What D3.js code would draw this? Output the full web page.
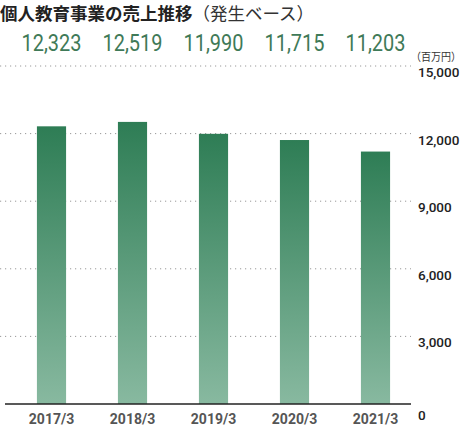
<!DOCTYPE html>
<html>
<head>
<meta charset="utf-8">
<script src="https://cdn.jsdelivr.net/npm/d3@7"></script>
<style>
  body { margin: 0; background: #fff; }
  svg { display: block; font-family: 'Noto Sans CJK JP', Roboto, sans-serif; }
  .grid line { stroke: #999; stroke-dasharray: 1.2 3.8; }
  .tick-label { font-family: Roboto, sans-serif; font-size: 13.5px; font-weight: 500; fill: #222; }
  .x-label { font-family: Roboto, sans-serif; font-size: 14px; font-weight: 700; fill: #555; }
  .value { font-family: Roboto, sans-serif; font-size: 24px; fill: #3f7a58; }
</style>
</head>
<body>
<script>
const years = ['2017/3', '2018/3', '2019/3', '2020/3', '2021/3'];
const sales = [12323, 12519, 11990, 11715, 11203];
const ticks = [0, 3000, 6000, 9000, 12000, 15000];

const width = 465;
const height = 426;

const svg = d3.select('body')
  .append('svg')
  .attr('width', width)
  .attr('height', height);

const x = d3.scaleBand()
  .domain(years)
  .range([11, 416])
  .paddingInner(0.64)
  .paddingOuter(0.32);

const y = d3.scaleLinear()
  .domain([0, 15000])
  .range([404, 66]);

const grad = svg.append('defs').append('linearGradient')
  .attr('id', 'barGrad')
  .attr('x1', 0).attr('y1', 0).attr('x2', 0).attr('y2', 1);
grad.append('stop').attr('offset', '0%').attr('stop-color', '#2e7d55');
grad.append('stop').attr('offset', '100%').attr('stop-color', '#88b9a0');

// title
const title = svg.append('text')
  .attr('x', 0)
  .attr('y', 20)
  .attr('font-size', 17.5);
title.append('tspan').attr('font-weight', 700).attr('fill', '#222').text('個人教育事業の売上推移');
title.append('tspan').attr('font-weight', 400).attr('fill', '#333').text('（発生ベース）');

// dotted grid
svg.append('g')
  .attr('class', 'grid')
  .selectAll('line')
  .data(ticks.filter(d => d > 0))
  .enter()
  .append('line')
  .attr('x1', 0)
  .attr('x2', 411)
  .attr('y1', d => y(d))
  .attr('y2', d => y(d));

// bars
svg.selectAll('.bar')
  .data(sales)
  .enter()
  .append('rect')
  .attr('class', 'bar')
  .attr('x', (d, i) => x(years[i]))
  .attr('width', x.bandwidth())
  .attr('y', d => y(d))
  .attr('height', d => y(0) - y(d))
  .attr('fill', 'url(#barGrad)');

// baseline
svg.append('line')
  .attr('x1', 5)
  .attr('x2', 411)
  .attr('y1', y(0))
  .attr('y2', y(0))
  .attr('stroke', '#222')
  .attr('stroke-width', 1.5);

// y tick labels on right
svg.selectAll('.tick-label')
  .data(ticks)
  .enter()
  .append('text')
  .attr('class', 'tick-label')
  .attr('x', 418)
  .attr('y', d => y(d) + (d === 0 ? 16 : 11))
  .text(d => d === 0 ? '0' : d3.format(',')(d));

svg.append('text')
  .attr('x', 411)
  .attr('y', 61)
  .attr('font-size', 11)
  .attr('fill', '#333')
  .attr('textLength', 50)
  .attr('lengthAdjust', 'spacingAndGlyphs')
  .text('（百万円）');

// x labels
svg.selectAll('.x-label')
  .data(years)
  .enter()
  .append('text')
  .attr('class', 'x-label')
  .attr('x', d => x(d) + x.bandwidth() / 2)
  .attr('y', 424)
  .attr('text-anchor', 'middle')
  .text(d => d);

// value labels
svg.selectAll('.value')
  .data(sales)
  .enter()
  .append('text')
  .attr('class', 'value')
  .attr('x', (d, i) => x(years[i]) + x.bandwidth() / 2)
  .attr('y', 51)
  .attr('text-anchor', 'middle')
  .attr('textLength', 60)
  .attr('lengthAdjust', 'spacingAndGlyphs')
  .text(d => d3.format(',')(d));
</script>
</body>
</html>
